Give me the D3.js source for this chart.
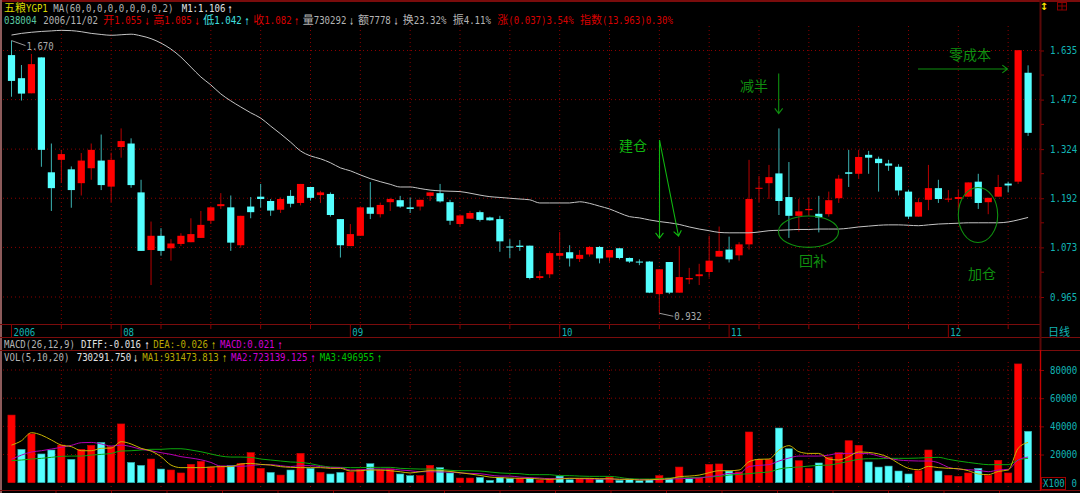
<!DOCTYPE html>
<html>
<head>
<meta charset="utf-8">
<script src="https://cdn.jsdelivr.net/npm/d3@7"></script>
<style>
  html, body { margin: 0; padding: 0; background: #000; overflow: hidden; }
  svg { display: block; }
</style>
</head>
<body>
<div id="chart"></div>
<script>
const opens = [
  1.619, 1.541, 1.492, 1.611, 1.260, 1.294, 1.268, 1.231, 1.271, 1.292,
  1.222, 1.330, 1.340, 1.207, 1.067, 1.100, 1.071, 1.081, 1.085, 1.095,
  1.136, 1.172, 1.169, 1.078, 1.171, 1.196, 1.185, 1.163, 1.198, 1.180,
  1.221, 1.200, 1.203, 1.140, 1.076, 1.100, 1.169, 1.152, 1.182, 1.187,
  1.169, 1.171, 1.198, 1.205, 1.182, 1.128, 1.141, 1.157, 1.144, 1.140,
  1.075, 1.077, 1.077, 1.005, 1.013, 1.054, 1.062, 1.047, 1.057, 1.074,
  1.050, 1.071, 1.049, 1.041, 1.041, 0.971, 1.040, 0.974, 1.002, 1.009,
  1.018, 1.052, 1.068, 1.055, 1.080, 1.218, 1.231, 1.257, 1.195, 1.148,
  1.162, 1.153, 1.152, 1.192, 1.260, 1.256, 1.308, 1.297, 1.284, 1.275,
  1.209, 1.146, 1.188, 1.218, 1.190, 1.190, 1.196, 1.235, 1.182, 1.196,
  1.230, 1.235, 1.559
];
const closes = [
  1.532, 1.491, 1.588, 1.322, 1.218, 1.310, 1.213, 1.292, 1.322, 1.226,
  1.294, 1.347, 1.226, 1.065, 1.100, 1.065, 1.082, 1.100, 1.104, 1.126,
  1.169, 1.177, 1.084, 1.148, 1.157, 1.190, 1.161, 1.190, 1.178, 1.229,
  1.193, 1.207, 1.150, 1.078, 1.104, 1.169, 1.153, 1.175, 1.190, 1.171,
  1.165, 1.188, 1.207, 1.184, 1.136, 1.149, 1.155, 1.138, 1.137, 1.087,
  1.073, 1.074, 1.005, 1.009, 1.060, 1.060, 1.048, 1.056, 1.074, 1.048,
  1.067, 1.049, 1.041, 1.039, 0.974, 1.024, 0.974, 1.007, 1.005, 1.013,
  1.043, 1.065, 1.046, 1.080, 1.190, 1.219, 1.247, 1.185, 1.148, 1.159,
  1.165, 1.144, 1.187, 1.243, 1.256, 1.302, 1.300, 1.285, 1.278, 1.212,
  1.146, 1.182, 1.218, 1.190, 1.191, 1.195, 1.233, 1.180, 1.193, 1.221,
  1.225, 1.636, 1.371
];
const highs = [
  1.670, 1.585, 1.623, 1.611, 1.340, 1.322, 1.276, 1.313, 1.340, 1.366,
  1.314, 1.384, 1.355, 1.240, 1.134, 1.118, 1.092, 1.106, 1.142, 1.160,
  1.169, 1.205, 1.199, 1.148, 1.195, 1.229, 1.190, 1.194, 1.213, 1.229,
  1.221, 1.211, 1.207, 1.140, 1.128, 1.169, 1.234, 1.181, 1.193, 1.198,
  1.194, 1.188, 1.207, 1.229, 1.188, 1.149, 1.160, 1.161, 1.146, 1.148,
  1.092, 1.090, 1.077, 1.020, 1.064, 1.109, 1.078, 1.067, 1.076, 1.076,
  1.067, 1.071, 1.050, 1.046, 1.042, 1.024, 1.040, 1.076, 1.027, 1.036,
  1.100, 1.122, 1.098, 1.085, 1.294, 1.250, 1.280, 1.384, 1.288, 1.190,
  1.194, 1.198, 1.209, 1.253, 1.322, 1.322, 1.319, 1.303, 1.294, 1.282,
  1.214, 1.192, 1.280, 1.240, 1.213, 1.215, 1.233, 1.256, 1.193, 1.253,
  1.235, 1.636, 1.584
];
const lows = [
  1.481, 1.469, 1.492, 1.275, 1.160, 1.232, 1.168, 1.199, 1.240, 1.213,
  1.182, 1.300, 1.219, 1.065, 0.990, 1.054, 1.043, 1.076, 1.085, 1.095,
  1.128, 1.165, 1.065, 1.072, 1.142, 1.168, 1.148, 1.155, 1.169, 1.174,
  1.186, 1.180, 1.146, 1.050, 1.076, 1.100, 1.140, 1.144, 1.160, 1.168,
  1.155, 1.161, 1.185, 1.181, 1.126, 1.122, 1.141, 1.134, 1.136, 1.063,
  1.049, 1.065, 1.002, 1.001, 1.005, 1.045, 1.030, 1.040, 1.052, 1.037,
  1.041, 1.046, 1.038, 1.033, 0.973, 0.932, 0.971, 0.974, 0.992, 0.990,
  1.006, 1.052, 1.039, 1.043, 1.068, 1.182, 1.190, 1.150, 1.095, 1.110,
  1.148, 1.108, 1.146, 1.180, 1.221, 1.243, 1.256, 1.209, 1.264, 1.199,
  1.140, 1.146, 1.162, 1.180, 1.182, 1.162, 1.196, 1.165, 1.152, 1.196,
  1.207, 1.229, 1.362
];
const ma60 = [
  1.690, 1.696, 1.700, 1.703, 1.705, 1.707, 1.706, 1.702, 1.696, 1.692,
  1.689, 1.691, 1.693, 1.687, 1.677, 1.661, 1.640, 1.612, 1.578, 1.545,
  1.519, 1.490, 1.468, 1.449, 1.431, 1.415, 1.391, 1.368, 1.344, 1.319,
  1.305, 1.297, 1.286, 1.272, 1.264, 1.253, 1.243, 1.235, 1.228, 1.221,
  1.221, 1.217, 1.213, 1.211, 1.210, 1.209, 1.205, 1.200, 1.196, 1.194,
  1.192, 1.190, 1.188, 1.180, 1.180, 1.180, 1.180, 1.183, 1.179, 1.172,
  1.165, 1.155, 1.146, 1.143, 1.138, 1.134, 1.131, 1.127, 1.121, 1.116,
  1.112, 1.108, 1.107, 1.107, 1.107, 1.109, 1.112, 1.113, 1.114, 1.115,
  1.115, 1.116, 1.116, 1.116, 1.118, 1.121, 1.123, 1.125, 1.126, 1.126,
  1.125, 1.124, 1.126, 1.128, 1.129, 1.130, 1.131, 1.131, 1.131, 1.131,
  1.133, 1.138, 1.144
];
const volumes = [
  48000, 23700, 34600, 20400, 23200, 26700, 16600, 23700, 26500, 28600,
  25600, 41700, 14400, 12300, 16800, 9700, 9000, 6900, 13000, 15100,
  11100, 11800, 12100, 13700, 21300, 10200, 7300, 5400, 9000, 20800,
  10200, 7300, 6200, 7300, 7600, 9500, 13500, 9000, 9700, 6200,
  5000, 5000, 12300, 10700, 6900, 3300, 3300, 3800, 1700, 3800,
  3100, 3100, 3300, 1900, 3100, 4700, 2100, 2800, 3100, 2400,
  4000, 1700, 2600, 1400, 2100, 5000, 3100, 11100, 2800, 3600,
  13000, 13300, 8300, 7600, 36000, 16600, 16600, 38800, 24100, 15600,
  10200, 14000, 18200, 21300, 29800, 26500, 14700, 11100, 11800, 8300,
  6200, 8500, 23200, 8300, 5200, 4500, 6900, 10200, 5200, 15900,
  6900, 84300, 36500
];
// 1 = red bar, 0 = cyan bar, as drawn in the volume panel
const volumeUp = [
  1, 0, 1, 0, 0, 1, 0, 1, 1, 0,
  1, 1, 0, 0, 1, 0, 1, 1, 1, 1,
  1, 1, 0, 1, 1, 1, 0, 1, 0, 1,
  0, 1, 0, 0, 1, 1, 0, 1, 1, 0,
  0, 1, 1, 0, 0, 1, 1, 0, 0, 0,
  0, 1, 0, 1, 1, 0, 0, 1, 1, 0,
  1, 0, 0, 0, 0, 1, 0, 1, 0, 1,
  1, 1, 0, 1, 1, 1, 1, 0, 0, 1,
  1, 0, 1, 1, 1, 1, 0, 0, 0, 0,
  0, 1, 1, 0, 1, 1, 1, 0, 1, 1,
  1, 1, 0
];
const volMa1 = [
  26700, 29800, 35500, 33800, 30300, 26700, 25600, 22700, 22700, 24400,
  24600, 29100, 27500, 24400, 22500, 18500, 12500, 10700, 10700, 10700,
  11100, 11400, 11400, 13300, 13700, 13000, 12500, 11400, 10900, 10700,
  10700, 10700, 10200, 10200, 8300, 8500, 9000, 9000, 8500, 7800,
  6900, 7800, 8500, 8500, 8000, 7100, 6200, 5200, 4000, 3600,
  3300, 3100, 3100, 2600, 2400, 2600, 3100, 3100, 3100, 2800,
  2800, 2400, 2400, 1900, 2100, 2400, 2800, 4300, 4700, 5400,
  7100, 8500, 8500, 9000, 14900, 16600, 16800, 23200, 26300, 22000,
  20800, 20800, 16800, 16100, 18500, 21800, 21500, 20400, 18000, 13700,
  10200, 9200, 11600, 10700, 10200, 9900, 8500, 6200, 5700, 8000,
  9000, 24400, 28600
];
const volMa2 = [
  16600, 19600, 21800, 22700, 23900, 25100, 26500, 28400, 28600, 27500,
  26000, 26700, 25600, 23700, 22700, 21300, 20100, 18500, 17500, 16300,
  14400, 11800, 11800, 11600, 12100, 12800, 12800, 12100, 11400, 12100,
  12100, 11400, 10700, 10700, 9000, 9000, 9700, 9700, 9700, 9000,
  8500, 7800, 7800, 7600, 7600, 6900, 6600, 6400, 5400, 4700,
  4700, 4000, 3600, 3300, 2800, 3100, 3100, 2800, 2600, 2600,
  2600, 2400, 2400, 2100, 2100, 2100, 2600, 2800, 3100, 3300,
  4300, 5200, 6600, 6600, 11400, 12300, 12800, 15400, 17500, 18900,
  18900, 18900, 19600, 20800, 20800, 20800, 20600, 18900, 17300, 16100,
  15600, 15400, 15400, 14200, 10900, 9700, 9200, 8800, 7800, 9000,
  9500, 16100, 18200
];
const volMa3 = [
  15600, 16100, 16800, 17300, 18000, 18700, 18900, 18900, 19600, 20100,
  20800, 22500, 22700, 23200, 23700, 23700, 24100, 24100, 23200, 22000,
  20400, 18900, 18200, 18200, 18000, 16800, 16100, 15400, 14700, 14400,
  13500, 12100, 11100, 10900, 10700, 10700, 10900, 10900, 10900, 10200,
  9900, 9700, 9700, 9500, 8800, 8500, 8500, 8300, 7600, 6900,
  6600, 6400, 5700, 5700, 5700, 5000, 5000, 4700, 4500, 4500,
  4500, 3800, 2800, 2600, 2600, 2800, 3300, 3300, 3600, 3800,
  4000, 4500, 5400, 5900, 6400, 7100, 7600, 9700, 10700, 11100,
  11800, 12300, 12500, 13700, 15100, 16600, 17000, 17000, 17300, 17300,
  17300, 17500, 17800, 18000, 16600, 15400, 14400, 13500, 12800, 12800,
  12800, 16100, 17300
];

const priceTicks = [0.965, 1.073, 1.192, 1.324, 1.472, 1.635];
const volumeTicks = [0, 20000, 40000, 60000, 80000];
const monthIndexes = [0, 11, 34, 55, 72, 94];
const monthLabels = ['2006', '08', '09', '10', '11', '12'];

const width = 1080, height = 493;
const gridRed = '#8a0000', lineRed = '#7a0c0c', axisCyan = '#12b4b4';
const upRed = '#ff0000', downCyan = '#54ffff';
const noteBright = '#10b810', noteDark = '#0f8f0f';

const svg = d3.select('#chart').append('svg').attr('width', width).attr('height', height);
svg.append('rect').attr('width', width).attr('height', height).attr('fill', '#000');

const x = d3.scaleLinear().domain([0, 102]).range([11.5, 1028.1]);
const yPrice = d3.scaleLog().domain([0.965, 1.635]).range([297, 50.5]);
const yVolume = d3.scaleLinear().domain([0, 80000]).range([482.7, 370]);
const gridIndexes = d3.range(5, 103, 5);
const monoSquash = 0.865;

/* ---
 * Helper: Writes a string, CJK glyphs and squeezed mono glyphs as separate runs.
 */
function label(px, py, str, color) {
  let cursor = px;
  (str.match(/[\u4e00-\u9fff]+|[^\u4e00-\u9fff]+/g) || []).forEach((run) => {
    const cjk = /[\u4e00-\u9fff]/.test(run);
    const isArrow = run === '↑' || run === '↓';
    const t = svg.append('text').attr('fill', color).text(run);
    if (cjk) {
      t.attr('x', cursor).attr('y', py).attr('font-family', '"Noto Sans CJK SC"').attr('font-size', 11);
      cursor += run.length * 11;
    } else if (isArrow) {
      t.attr('transform', `translate(${cursor},${py + 1}) scale(0.55,1)`)
       .attr('font-family', '"DejaVu Sans Mono"').attr('font-size', 13);
    } else {
      t.attr('transform', `translate(${cursor},${py}) scale(${monoSquash},1)`)
       .attr('font-family', '"DejaVu Sans Mono"').attr('font-size', 10.5);
      cursor += run.length * 5.45;
    }
  });
}

function drawGrid() {
  const grid = svg.append('g').attr('stroke', gridRed).attr('stroke-width', 1).attr('stroke-dasharray', '1,3');
  grid.selectAll('.hp').data(priceTicks).enter().append('line')
      .attr('x1', 3).attr('x2', 1040).attr('y1', (d) => yPrice(d)).attr('y2', (d) => yPrice(d));
  grid.selectAll('.hv').data(volumeTicks.slice(1)).enter().append('line')
      .attr('x1', 3).attr('x2', 1040).attr('y1', (d) => yVolume(d)).attr('y2', (d) => yVolume(d));
  grid.selectAll('.vp').data(gridIndexes).enter().append('line')
      .attr('x1', (d) => x(d)).attr('x2', (d) => x(d)).attr('y1', 26).attr('y2', 324);
  grid.selectAll('.vv').data(gridIndexes).enter().append('line')
      .attr('x1', (d) => x(d)).attr('x2', (d) => x(d)).attr('y1', 362).attr('y2', 490);
}

function drawFrame() {
  const frame = svg.append('g').attr('stroke', lineRed).attr('fill', 'none');
  frame.append('line').attr('x1', 0).attr('x2', width).attr('y1', 1).attr('y2', 1).attr('stroke-width', 2);
  frame.append('line').attr('x1', 1).attr('x2', 1).attr('y1', 0).attr('y2', height).attr('stroke', '#8c5a5a').attr('stroke-width', 2);
  frame.append('line').attr('x1', 0).attr('x2', 1040).attr('y1', 324.5).attr('y2', 324.5).attr('stroke-width', 1.2);
  frame.append('line').attr('x1', 0).attr('x2', width).attr('y1', 337.5).attr('y2', 337.5);
  frame.append('line').attr('x1', 0).attr('x2', width).attr('y1', 350.5).attr('y2', 350.5).attr('stroke-width', 1.2);
  frame.append('line').attr('x1', 0).attr('x2', width).attr('y1', 490.5).attr('y2', 490.5).attr('stroke-width', 1.2);
  frame.append('line').attr('x1', 1040.5).attr('x2', 1040.5).attr('y1', 0).attr('y2', 350).attr('stroke', '#5a0808').attr('stroke-width', 2);
  frame.append('line').attr('x1', 1040.5).attr('x2', 1040.5).attr('y1', 350).attr('y2', 491).attr('stroke', '#c40000').attr('stroke-width', 1.4);

  // time ticks: short ones every five sessions, tall ones at a month start
  frame.selectAll('.t5').data(gridIndexes).enter().append('line')
       .attr('x1', (d) => x(d)).attr('x2', (d) => x(d)).attr('y1', 324).attr('y2', 329).attr('stroke', '#8a0000');
  frame.selectAll('.tm').data(monthIndexes).enter().append('line')
       .attr('x1', (d) => x(d)).attr('x2', (d) => x(d)).attr('y1', 324).attr('y2', 337).attr('stroke', '#8a0000');
  monthIndexes.forEach((d, i) => label(x(d) + 2, 335.5, monthLabels[i], axisCyan));

  // stubs of the next panel's scale along the bottom edge
  frame.selectAll('.bt').data(d3.range(56, 1040, 55.5)).enter().append('line')
       .attr('x1', (d) => d).attr('x2', (d) => d).attr('y1', 490).attr('y2', 493).attr('stroke', '#8a0000');

  // small toolbar glyphs at the top right
  svg.append('text').attr('x', 1044).attr('y', 10).attr('text-anchor', 'middle').attr('fill', '#ffe600')
     .attr('font-family', '"DejaVu Sans"').attr('font-weight', 'bold').attr('font-size', 10).text('\u2195');
  const box = svg.append('g').attr('stroke', '#8a0000').attr('fill', 'none');
  box.append('rect').attr('x', 1057.5).attr('y', 2.5).attr('width', 9).attr('height', 7.5);
  box.append('line').attr('x1', 1062).attr('x2', 1062).attr('y1', 2.5).attr('y2', 10);
  box.append('line').attr('x1', 1057.5).attr('x2', 1066.5).attr('y1', 6).attr('y2', 6);
}

function drawAxes() {
  const price = svg.append('g').attr('transform', 'translate(1041,0)')
      .call(d3.axisRight(yPrice).tickValues(priceTicks).tickFormat(d3.format('.3f')).tickSize(3));
  const volume = svg.append('g').attr('transform', 'translate(1041,0)')
      .call(d3.axisRight(yVolume).tickValues(volumeTicks).tickFormat(d3.format('d')).tickSize(3));
  [price, volume].forEach((axis) => {
    axis.select('.domain').remove();
    axis.selectAll('.tick line').attr('stroke', '#8a0000');
    axis.selectAll('.tick text').attr('fill', axisCyan).attr('font-family', '"DejaVu Sans Mono"').attr('font-size', 10.5)
        .attr('x', 0).attr('transform', `translate(9,0) scale(${monoSquash},1)`);
  });
  volume.selectAll('.tick text').filter((d) => d === 0).attr('transform', `translate(30.5,0) scale(${monoSquash},1)`);

  // unlabelled minor ticks half way between the price levels
  const minors = d3.pairs(priceTicks).map((p) => Math.sqrt(p[0] * p[1]));
  svg.selectAll('.minor').data(minors).enter().append('line')
     .attr('x1', 1041).attr('x2', 1044).attr('y1', (d) => yPrice(d)).attr('y2', (d) => yPrice(d)).attr('stroke', '#8a0000');

  label(1048, 336, '日线', axisCyan);
  svg.append('rect').attr('x', 1041.5).attr('y', 477.5).attr('width', 24).attr('height', 12)
     .attr('fill', 'none').attr('stroke', '#a00000');
  label(1043, 487, 'X100', axisCyan);
}

function drawCandles() {
  const candles = svg.append('g');
  const idx = d3.range(opens.length);
  const isUp = (i) => closes[i] >= opens[i];

  candles.selectAll('.wick').data(idx).enter().append('line')
      .attr('x1', (i) => x(i)).attr('x2', (i) => x(i))
      .attr('y1', (i) => yPrice(highs[i])).attr('y2', (i) => yPrice(lows[i]))
      .attr('stroke', (i) => isUp(i) ? '#b80000' : '#3cb4b4').attr('stroke-width', 1);
  candles.selectAll('.body').data(idx).enter().append('rect')
      .attr('x', (i) => x(i) - 3.6).attr('width', 7.2)
      .attr('y', (i) => yPrice(Math.max(opens[i], closes[i])))
      .attr('height', (i) => Math.max(1, Math.abs(yPrice(opens[i]) - yPrice(closes[i]))))
      .attr('fill', (i) => isUp(i) ? upRed : downCyan);

  const line = d3.line().x((d, i) => x(i)).y((d) => yPrice(d)).curve(d3.curveMonotoneX);
  svg.append('path').attr('d', line(ma60)).attr('fill', 'none').attr('stroke', '#c4c4c4').attr('stroke-width', 1);

  // extreme price labels with their leader lines
  const leader = svg.append('g').attr('stroke', '#9a9a9a').attr('fill', 'none');
  leader.append('line').attr('x1', x(0)).attr('y1', yPrice(1.670)).attr('x2', x(0) + 14).attr('y2', yPrice(1.670) + 5);
  leader.append('line').attr('x1', x(65)).attr('y1', yPrice(0.932)).attr('x2', x(65) + 14).attr('y2', yPrice(0.932) + 3);
  label(x(0) + 15, yPrice(1.670) + 9, '1.670', '#aaaaaa');
  label(x(65) + 15, yPrice(0.932) + 7, '0.932', '#aaaaaa');
}

function drawVolume() {
  const idx = d3.range(volumes.length);
  svg.append('g').selectAll('rect').data(idx).enter().append('rect')
     .attr('x', (i) => x(i) - 3.6).attr('width', 7.2)
     .attr('y', (i) => yVolume(volumes[i]))
     .attr('height', (i) => yVolume(0) - yVolume(volumes[i]))
     .attr('fill', (i) => volumeUp[i] ? upRed : downCyan)
     .attr('stroke', (i) => volumeUp[i] ? '#d00000' : '#2fa8a8').attr('stroke-width', 0.6);

  const line = d3.line().x((d, i) => x(i)).y((d) => yVolume(d)).curve(d3.curveMonotoneX);
  [[volMa3, '#0ca80c'], [volMa2, '#b400b4'], [volMa1, '#c8b400']].forEach((s) => {
    svg.append('path').attr('d', line(s[0])).attr('fill', 'none').attr('stroke', s[1]).attr('stroke-width', 1);
  });
}

function drawHeaders() {
  const gray = '#b4b4b4', white = '#e0e0e0', red = '#d80000', cyan = '#40e0e0';
  const yellow = '#b8a800', magenta = '#d000d0', green = '#00c000';

  label(4, 11.5, '五粮YGP1', '#d8d800');
  label(53.3, 11.5, 'MA(60,0,0,0,0,0,0,0,2)', gray);
  label(181.7, 11.5, 'M1:1.106', white);
  label(228, 11.5, '↑', white);

  label(4, 24, '038004', '#58c8a0');
  label(43.3, 24, '2006/11/02', gray);
  label(103.3, 24, '开1.055', red);
  label(145, 24, '↓', red);
  label(153.3, 24, '高1.085', red);
  label(195, 24, '↓', red);
  label(203.3, 24, '低1.042', cyan);
  label(245, 24, '↑', cyan);
  label(253.3, 24, '收1.082', red);
  label(294.5, 24, '↑', red);
  label(302.7, 24, '量730292', gray);
  label(349.5, 24, '↓', gray);
  label(358, 24, '额7778', gray);
  label(394, 24, '↓', gray);
  label(402.7, 24, '换23.32%', gray);
  label(452.7, 24, '振4.11%', gray);
  label(497.3, 24, '涨(0.037)3.54%', red);
  label(580, 24, '指数(13.963)0.30%', red);

  label(4, 347.5, 'MACD(26,12,9)', gray);
  label(81, 347.5, 'DIFF:-0.016', white);
  label(145, 347.5, '↑', white);
  label(153.3, 347.5, 'DEA:-0.026', yellow);
  label(211.5, 347.5, '↑', yellow);
  label(220, 347.5, 'MACD:0.021', magenta);
  label(278, 347.5, '↑', magenta);

  label(4, 360.5, 'VOL(5,10,20)', gray);
  label(76.7, 360.5, '730291.750', white);
  label(133.5, 360.5, '↓', white);
  label(142.3, 360.5, 'MA1:931473.813', yellow);
  label(222.5, 360.5, '↑', yellow);
  label(231, 360.5, 'MA2:723139.125', magenta);
  label(311, 360.5, '↑', magenta);
  label(319.7, 360.5, 'MA3:496955', green);
  label(377.5, 360.5, '↑', green);
}

/* ---
 * Helper: Hand-drawn style arrow, a shaft with two open head strokes.
 */
function arrow(x1, y1, x2, y2, color) {
  const a = Math.atan2(y2 - y1, x2 - x1), size = 6.5;
  const wing = (t) => [x2 - size * Math.cos(a + t), y2 - size * Math.sin(a + t)];
  svg.append('path').attr('fill', 'none').attr('stroke', color).attr('stroke-width', 1.1)
     .attr('d', d3.line()([[x1, y1], [x2, y2]]) + d3.line()([wing(0.65), [x2, y2], wing(-0.65)]));
}

function note(px, py, str, color) {
  svg.append('text').attr('x', px).attr('y', py).attr('fill', color)
     .attr('font-family', '"Noto Sans CJK SC"').attr('font-size', 14).text(str);
}

function drawNotes() {
  note(619, 151, '建仓', noteBright);
  note(740, 90.5, '减半', noteDark);
  note(949, 60, '零成本', noteDark);
  note(799, 266, '回补', noteDark);
  note(968, 279, '加仓', noteDark);

  arrow(659.5, 140, 659.5, 238, noteBright);
  arrow(659.5, 140, 678.5, 236, noteBright);
  arrow(778.7, 73.5, 778.7, 113.5, noteDark);
  arrow(918, 69, 1007.5, 69, noteDark);

  const rings = svg.append('g').attr('fill', 'none').attr('stroke', noteDark).attr('stroke-width', 1.1);
  rings.append('ellipse').attr('cx', 808.5).attr('cy', 231.7).attr('rx', 30).attr('ry', 15.7);
  rings.append('ellipse').attr('cx', 978).attr('cy', 215).attr('rx', 19.7).attr('ry', 27.5);
}

drawGrid();
drawVolume();
drawCandles();
drawFrame();
drawAxes();
drawHeaders();
drawNotes();
</script>
</body>
</html>
